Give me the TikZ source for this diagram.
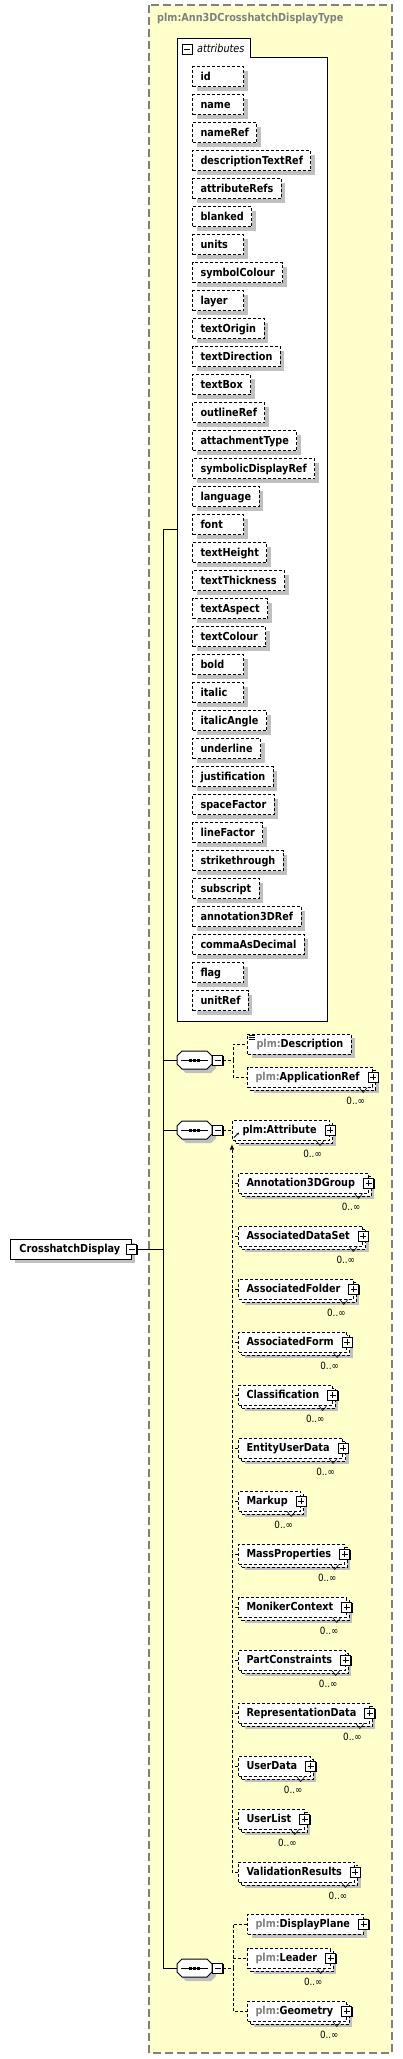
\documentclass[tikz,border=0pt]{standalone}
\usepackage{fontspec}
\setmainfont{DejaVu Sans}[FakeStretch=0.88]
\usetikzlibrary{shadows,arrows.meta}
\definecolor{ybg}{RGB}{255,255,204}
\definecolor{shad}{RGB}{192,192,192}
\definecolor{gtx}{RGB}{128,128,128}
\newcommand\lbl{\fontsize{11pt}{13pt}\selectfont\bfseries}
\newcommand\occfont{\fontsize{10pt}{12pt}\selectfont}
\newcommand\atxt[1]{\setbox0\hbox{#1}\ifdim\wd0<35pt\hbox to 35pt{#1\hfil}\else\box0\fi}
\tikzset{
  dl/.style={dash pattern=on 3pt off 2pt},
  boxsh/.style={general shadow={shadow xshift=4pt, shadow yshift=-4pt, fill=shad}},
  attr/.style={draw, dl, fill=white, line width=1pt, minimum height=20pt, inner sep=0pt,
    anchor=north west, font=\lbl, text height=8pt, text depth=1pt, boxsh},
  el/.style={draw, dl, fill=white, line width=1pt, minimum height=20pt, inner sep=0pt,
    anchor=west, font=\lbl, text height=8pt, text depth=1pt},
  elS/.style={el, boxsh},
  elM/.style={el, general shadow={shadow xshift=6pt, shadow yshift=-6pt, fill=shad},
    general shadow={shadow xshift=3pt, shadow yshift=-3pt, fill=white, draw=black, line width=1pt, dl}},
  icb/.style={draw, solid, fill=white, line width=1pt, minimum width=10pt, minimum height=10pt, inner sep=0pt},
  ic/.style={icb, general shadow={shadow xshift=1pt, shadow yshift=-1pt, fill=black}},
  plusic/.style={ic, path picture={\draw[line width=1pt]
      ([xshift=2pt]path picture bounding box.west) -- ([xshift=-2pt]path picture bounding box.east)
      ([yshift=-2pt]path picture bounding box.north) -- ([yshift=2pt]path picture bounding box.south);}},
  minusic/.style={ic, path picture={\draw[line width=1pt]
      ([xshift=2pt]path picture bounding box.west) -- ([xshift=-2pt]path picture bounding box.east);}},
  minusplain/.style={icb, path picture={\draw[line width=1pt]
      ([xshift=2pt]path picture bounding box.west) -- ([xshift=-2pt]path picture bounding box.east);}},
  occ/.style={font=\occfont, inner sep=0pt, anchor=east},
  conn/.style={line width=1pt},
  dconn/.style={line width=1pt, dl},
  notch/.style={line width=0.6pt}
}
% single element with plus: name, coordinate, text
\newcommand\elS[3]{\node[elS] (#1) at #2 {\hspace*{8pt}#3\hspace*{13pt}};
  \node[plusic] (#1p) at (#1.east) {};}
% multi element with plus and 0..inf
\newcommand\elM[3]{\node[elM] (#1) at #2 {\hspace*{8pt}#3\hspace*{13pt}};
  \draw[notch] ([shift={(-14,0)}]#1.south east) -- ([shift={(-10,5)}]#1.south east) -- ([shift={(-6,0)}]#1.south east);
  \node[plusic] (#1p) at (#1.east) {};
  \node[occ] (#1o) at ([shift={(-8,13)}]#1.south east) {0..∞};}
% sequence octagon: name, x (west), y (centre)
\newcommand\seqoct[3]{%
  \node[minimum width=35pt, minimum height=18pt, inner sep=0pt, anchor=west] (#1) at (#2,#3) {};
  \fill[shad] (#2+9,#3-5) -- (#2+34,#3-5) -- (#2+39,#3) -- (#2+39,#3+8) -- (#2+34,#3+13)
     -- (#2+9,#3+13) -- (#2+4,#3+8) -- (#2+4,#3) -- cycle;
  \draw[fill=white, line width=1pt] (#2+5,#3-9) -- (#2+30,#3-9) -- (#2+35,#3-4) -- (#2+35,#3+4)
     -- (#2+30,#3+9) -- (#2+5,#3+9) -- (#2,#3+4) -- (#2,#3-4) -- cycle;
  \draw[line width=1pt] (#2+4,#3) -- (#2+31,#3);
  \fill (#2+12,#3-1.5) rectangle +(3,3);
  \fill (#2+16,#3-1.5) rectangle +(3,3);
  \fill (#2+20,#3-1.5) rectangle +(3,3);
  \node[minusic, anchor=west] (#1m) at (#1.east) {};}
\begin{document}
\begin{tikzpicture}[x=1pt, y=-1pt]
\useasboundingbox (0,0) rectangle (402,2059);
\fill[white] (0,0) rectangle (402,2059);
% complex type box
\draw[gtx, line width=1.2pt, dash pattern=on 8pt off 4pt, fill=ybg] (149,5) rectangle (392,2053);
\node[anchor=west, inner sep=0pt, text=gtx, font=\lbl] (title) at (157,19) {plm:Ann3DCrosshatchDisplayType};
% attributes box
\node[anchor=north west, minimum width=150pt, minimum height=983pt, inner sep=0pt] (attrs) at (177,38) {};
\draw[fill=white, line width=1pt] (177,38) -- (250,38) -- (250,57) -- (327,57) -- (327,1021) -- (177,1021) -- cycle;
\node[minusplain] (attrsm) at (187,49.5) {};
\node[anchor=west, inner sep=0pt, font=\fontsize{11pt}{13pt}\selectfont\itshape] (attrslbl) at (197,48) {attributes};
\foreach \a [count=\i from 0] in {id,name,nameRef,descriptionTextRef,attributeRefs,blanked,units,symbolColour,layer,textOrigin,textDirection,textBox,outlineRef,attachmentType,symbolicDisplayRef,language,font,textHeight,textThickness,textAspect,textColour,bold,italic,italicAngle,underline,justification,spaceFactor,lineFactor,strikethrough,subscript,annotation3DRef,commaAsDecimal,flag,unitRef}
  \node[attr] (a\i) at (192,{66+28*\i}) {\hspace*{8pt}\atxt{\a}\hspace*{8pt}};
% root element
\node[el, solid, boxsh] (cd) at (10,1249) {\hspace*{9pt}CrosshatchDisplay\hspace*{11pt}};
\node[minusic] (cdm) at (cd.east) {};
% sequences
\seqoct{s1}{177}{1060}
\seqoct{s2}{177}{1130}
\seqoct{s3}{177}{1968}
% trunk
\draw[conn] (attrs.west) -- ++(-14,0) coordinate (jt) -- (jt |- s3.west) -- (s3.west);
\draw[conn] (cdm.east) -- (cdm.east -| jt);
\draw[conn] (jt |- s1.west) -- (s1.west);
\draw[conn] (jt |- s2.west) -- (s2.west);
% sequence 1
\node[elS] (desc) at (247,1044) {\hspace*{9pt}\textcolor{gtx}{plm:}Description\hspace*{8pt}};
\draw[line width=0.7pt] ([shift={(1.5,1.5)}]desc.north west) -- +(6,0)
  ([shift={(1.5,3.5)}]desc.north west) -- +(6,0) ([shift={(1.5,5.5)}]desc.north west) -- +(6,0);
\elM{appref}{(247,1077)}{\textcolor{gtx}{plm:}ApplicationRef}
\draw[dconn] (s1m.east) -- ++(10,0) |- (desc.west);
\draw[dconn] (s1m.east) -- ++(10,0) |- (appref.west);
% sequence 2 : substitution group
\elM{attr}{(232,1130)}{\hspace*{2pt}plm:Attribute}
\draw[dconn] (s2m.east) -- (attr.west);
\draw[line width=0.8pt, -{Stealth[length=2.5pt,width=2.5pt]}] ([shift={(2,-3)}]attr.south west) -- ++(5,-5);
\foreach \t [count=\k] in {Annotation3DGroup,AssociatedDataSet,AssociatedFolder,AssociatedForm,Classification,EntityUserData,Markup,MassProperties,MonikerContext,PartConstraints,RepresentationData,UserData,UserList,ValidationResults}{
  \elM{m\k}{(238,{1130+53*\k})}{\t}
  \draw[dconn] (m\k.west) -- ++(-6,0);
}
\coordinate (subtip) at ([yshift=-4pt]attr.south west);
\draw[dconn, -{Triangle[length=5pt,width=4pt]}] (m14.west) -- ++(-6,0) -- (subtip);
% sequence 3
\elS{dplane}{(247,1924)}{\textcolor{gtx}{plm:}DisplayPlane}
\elM{leader}{(247,1958)}{\textcolor{gtx}{plm:}Leader}
\elM{geom}{(247,2011)}{\textcolor{gtx}{plm:}Geometry}
\draw[dconn] (s3m.east) -- ++(10,0) |- (dplane.west);
\draw[dconn] (s3m.east) -- ++(10,0) |- (leader.west);
\draw[dconn] (s3m.east) -- ++(10,0) |- (geom.west);
\end{tikzpicture}
\end{document}
